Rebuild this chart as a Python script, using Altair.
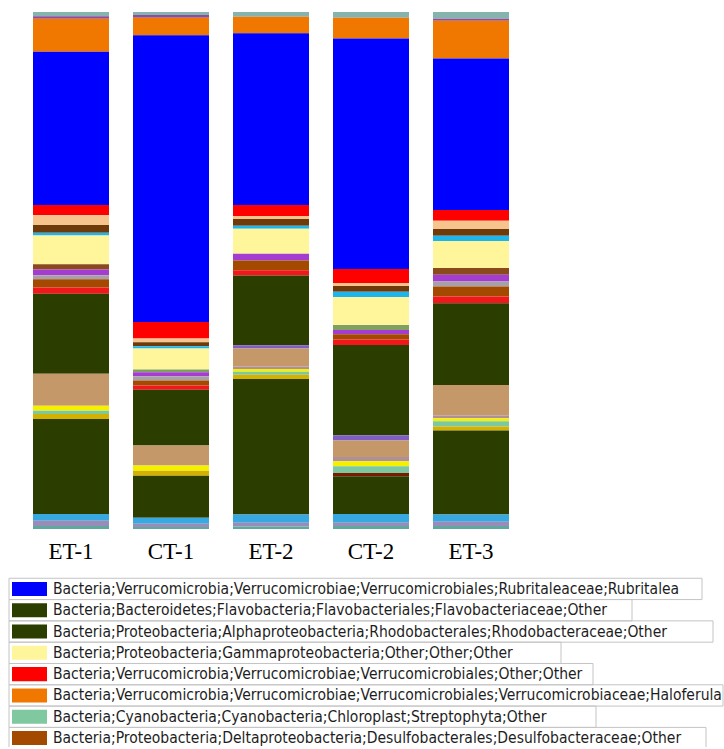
import altair as alt
import pandas as pd

# Samples along the x axis
samples = ["ET-1", "CT-1", "ET-2", "CT-2", "ET-3"]

# Taxa in stacking order, top of each column first
taxa = [
    "Low-abundance taxon A",
    "Low-abundance taxon B",
    "Bacteria;Verrucomicrobia;Verrucomicrobiae;Verrucomicrobiales;Verrucomicrobiaceae;Haloferula",
    "Bacteria;Verrucomicrobia;Verrucomicrobiae;Verrucomicrobiales;Rubritaleaceae;Rubritalea",
    "Bacteria;Verrucomicrobia;Verrucomicrobiae;Verrucomicrobiales;Other;Other",
    "Low-abundance taxon C",
    "Low-abundance taxon D",
    "Low-abundance taxon E",
    "Bacteria;Proteobacteria;Gammaproteobacteria;Other;Other;Other",
    "Low-abundance taxon F",
    "Low-abundance taxon G",
    "Low-abundance taxon H",
    "Low-abundance taxon I",
    "Bacteria;Proteobacteria;Deltaproteobacteria;Desulfobacterales;Desulfobacteraceae;Other",
    "Low-abundance taxon J",
    "Bacteria;Proteobacteria;Alphaproteobacteria;Rhodobacterales;Rhodobacteraceae;Other",
    "Low-abundance taxon K",
    "Low-abundance taxon L",
    "Low-abundance taxon M",
    "Low-abundance taxon N",
    "Bacteria;Cyanobacteria;Cyanobacteria;Chloroplast;Streptophyta;Other",
    "Low-abundance taxon O",
    "Low-abundance taxon S",
    "Bacteria;Bacteroidetes;Flavobacteria;Flavobacteriales;Flavobacteriaceae;Other",
    "Low-abundance taxon P",
    "Low-abundance taxon Q",
    "Low-abundance taxon R",
]

taxon_colors = [
    "#86b3ae", "#8e4e9e", "#f07800", "#0000ff", "#ff0000", "#f7c48e",
    "#6e3a0a", "#1fb5ea", "#fff59a", "#8b4a1c", "#7fa060", "#a43cd0",
    "#a8a0a8", "#a34a00", "#f01818", "#2b3e00", "#7f5fc0", "#c49868",
    "#b09098", "#f5f000", "#7cc8a0", "#d4b000", "#7a1a00", "#2b3e00",
    "#38a8e0", "#9a8cb8", "#5fa8a0",
]

# Relative abundance (%) of each taxon, same order as `taxa`
et1 = [0.8, 0.5, 6.4, 29.7, 2.0, 1.9, 1.5, 0.5, 5.6, 1.0, 0.0, 1.1, 0.8, 1.6, 1.2,
       15.5, 0.0, 6.2, 0.0, 1.0, 0.6, 1.0, 0.0, 18.4, 1.3, 1.0, 0.6]
ct1 = [0.6, 0.5, 3.4, 55.6, 3.2, 0.7, 0.8, 0.4, 4.1, 0.0, 0.5, 0.8, 0.8, 1.0, 0.8,
       10.8, 0.0, 3.9, 0.0, 1.0, 0.0, 1.0, 0.0, 8.1, 1.2, 0.6, 0.4]
et2 = [0.9, 0.0, 3.2, 33.2, 2.1, 0.6, 1.3, 0.6, 4.8, 0.0, 0.0, 1.3, 0.0, 1.9, 1.0,
       13.5, 0.6, 3.5, 0.5, 0.5, 0.6, 0.8, 0.0, 26.2, 1.6, 0.7, 0.5]
ct2 = [1.1, 0.0, 4.0, 44.5, 2.7, 0.6, 1.1, 1.0, 5.4, 0.0, 1.0, 0.8, 0.0, 1.0, 1.1,
       17.4, 1.0, 3.2, 0.8, 1.0, 1.3, 0.0, 0.6, 7.3, 1.7, 0.6, 0.6]
et3 = [1.3, 0.4, 7.3, 29.2, 2.1, 1.6, 1.3, 1.0, 5.2, 1.3, 0.0, 1.3, 1.0, 1.9, 1.3,
       15.8, 0.0, 5.9, 0.5, 0.6, 1.0, 0.8, 0.0, 16.2, 1.4, 0.8, 0.6]
abundance = [et1, ct1, et2, ct2, et3]

# Legend entries (most abundant first)
legend_taxa = [
    "Bacteria;Verrucomicrobia;Verrucomicrobiae;Verrucomicrobiales;Rubritaleaceae;Rubritalea",
    "Bacteria;Bacteroidetes;Flavobacteria;Flavobacteriales;Flavobacteriaceae;Other",
    "Bacteria;Proteobacteria;Alphaproteobacteria;Rhodobacterales;Rhodobacteraceae;Other",
    "Bacteria;Proteobacteria;Gammaproteobacteria;Other;Other;Other",
    "Bacteria;Verrucomicrobia;Verrucomicrobiae;Verrucomicrobiales;Other;Other",
    "Bacteria;Verrucomicrobia;Verrucomicrobiae;Verrucomicrobiales;Verrucomicrobiaceae;Haloferula",
    "Bacteria;Cyanobacteria;Cyanobacteria;Chloroplast;Streptophyta;Other",
    "Bacteria;Proteobacteria;Deltaproteobacteria;Desulfobacterales;Desulfobacteraceae;Other",
]
legend_colors = ["#0000ff", "#2b3e00", "#2b3e00", "#fff59a", "#ff0000",
                 "#f07800", "#80c8a0", "#a34a00"]

# Legend layout (pixels): right edge of each entry's frame
frame_right = [702, 632, 713, 561, 593, 723, 596, 706]

rows = []
for s, vals in zip(samples, abundance):
    for rank, (t, v) in enumerate(zip(taxa, vals)):
        rows.append({"sample": s, "taxon": t, "value": v, "rank": rank})
df = pd.DataFrame(rows)

bars = alt.Chart(df).mark_bar().encode(
    x=alt.X(
        "sample:N", sort=samples,
        scale=alt.Scale(paddingInner=0.24, paddingOuter=0.33),
        axis=alt.Axis(title=None, labelAngle=0, domain=False, ticks=False,
                      tickSize=0, labelFont="Liberation Serif", labelFontSize=23,
                      labelColor="black", labelPadding=11),
    ),
    y=alt.Y("value:Q", stack="normalize", axis=None,
            scale=alt.Scale(domain=[0, 1], nice=False)),
    color=alt.Color("taxon:N", scale=alt.Scale(domain=taxa, range=taxon_colors),
                    legend=None),
    order=alt.Order("rank:Q", sort="descending"),
).properties(width=542, height=517)

leg = pd.DataFrame({
    "row": list(range(len(legend_taxa))),
    "label": legend_taxa,
    "color": legend_colors,
    "fx0": [9] * len(legend_taxa),
    "fx1": frame_right,
})
leg["top"] = leg["row"] - 0.5
leg["bot"] = leg["row"] + 0.5
leg["sy0"] = leg["row"] - 0.33
leg["sy1"] = leg["row"] + 0.33
leg["sx0"] = 12
leg["sx1"] = 47
leg["tx"] = 53

xs = alt.Scale(domain=[0, 724], nice=False, zero=False)
ys = alt.Scale(domain=[-0.653, 7.42], nice=False, zero=False, reverse=True)

base = alt.Chart(leg)
frames = base.mark_rect(filled=False, stroke="#c4c4c4", strokeWidth=1, clip=True).encode(
    x=alt.X("fx0:Q", scale=xs, axis=None), x2="fx1:Q",
    y=alt.Y("top:Q", scale=ys, axis=None), y2="bot:Q",
)
swatches = base.mark_rect().encode(
    x=alt.X("sx0:Q", scale=xs, axis=None), x2="sx1:Q",
    y=alt.Y("sy0:Q", scale=ys, axis=None), y2="sy1:Q",
    color=alt.Color("color:N", scale=None),
)
# text layer is clipped to the view so a long name never widens the page
labels = base.mark_text(
    align="left", baseline="middle",
    font="DejaVu Sans Condensed, Liberation Sans Narrow, DejaVu Sans",
    fontSize=15.5, color="#1e1e1e", clip=True,
).encode(
    x=alt.X("tx:Q", scale=xs, axis=None),
    y=alt.Y("row:Q", scale=ys, axis=None),
    text="label:N",
)
legend = alt.layer(frames, swatches, labels).properties(width=724, height=172)

chart = alt.vconcat(bars, legend, spacing=12).properties(
    padding={"top": 11, "left": 0, "right": 0, "bottom": 0},
    background="white",
).configure_view(stroke=None)

chart.save("out.html", embed_options={"renderer": "svg", "actions": False})
